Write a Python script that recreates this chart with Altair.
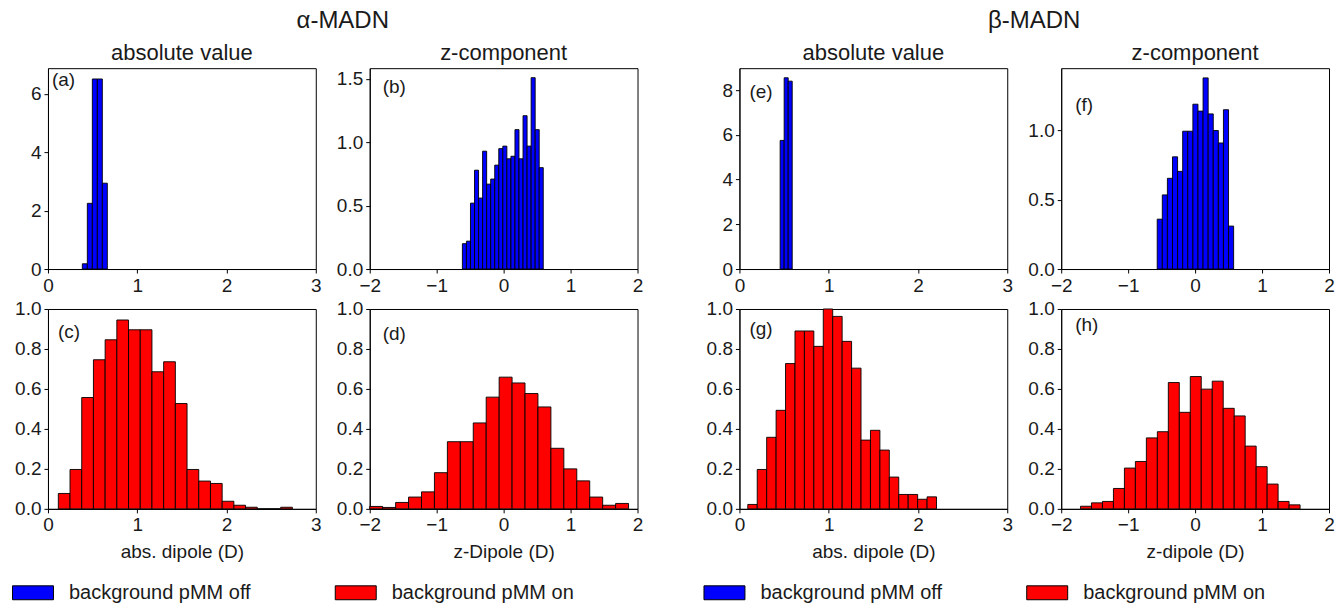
import altair as alt
import pandas as pd

OFF = "background pMM off"
ON = "background pMM on"

# ---- histogram data (probability densities) ----
# (a) alpha-MADN, |dipole|, pMM off
a_start, a_width = 0.385, 0.056
a_heights = [0.18, 2.25, 6.51, 6.51, 2.94]
# (b) alpha-MADN, z-dipole, pMM off
b_start, b_width = -0.616, 0.0604
b_heights = [0.20, 0.22, 0.52, 0.78, 0.56, 0.93, 0.67, 0.71, 0.82, 0.95,
             0.97, 0.87, 0.89, 1.10, 0.87, 1.21, 0.97, 1.51, 1.10, 0.80]
# (c) alpha-MADN, |dipole|, pMM on
c_start, c_width = 0.116, 0.1311
c_heights = [0.077, 0.197, 0.557, 0.746, 0.846, 0.945, 0.896, 0.896, 0.686, 0.736,
             0.527, 0.197, 0.139, 0.127, 0.038, 0.018, 0.008, 0.0, 0.0, 0.008]
# (d) alpha-MADN, z-dipole, pMM on
d_start, d_width = -2.0, 0.1933
d_heights = [0.012, 0.007, 0.032, 0.059, 0.085, 0.181, 0.336, 0.336, 0.430, 0.559,
             0.659, 0.630, 0.577, 0.510, 0.303, 0.200, 0.140, 0.059, 0.018, 0.027]
# (e) beta-MADN, |dipole|, pMM off
e_start, e_width = 0.456, 0.045
e_heights = [5.75, 8.55, 8.40]
# (f) beta-MADN, z-dipole, pMM off
f_start, f_width = -0.566, 0.0761
f_heights = [0.36, 0.535, 0.655, 0.81, 0.705, 0.995, 0.995, 1.19, 1.14, 1.38,
             1.12, 1.00, 0.91, 1.15, 0.31]
# (g) beta-MADN, |dipole|, pMM on
g_start, g_width = 0.0935, 0.1057
g_heights = [0.022, 0.197, 0.358, 0.493, 0.727, 0.890, 0.890, 0.813, 1.000, 0.963,
             0.838, 0.704, 0.344, 0.393, 0.294, 0.159, 0.072, 0.072, 0.048, 0.060]
# (h) beta-MADN, z-dipole, pMM on
h_start, h_width = -1.712, 0.164
h_heights = [0.013, 0.030, 0.037, 0.102, 0.204, 0.237, 0.355, 0.386, 0.632, 0.483,
             0.662, 0.599, 0.639, 0.503, 0.465, 0.314, 0.211, 0.124, 0.037, 0.020]

FONT = "Liberation Sans"
TXT = "#1a1a1a"
PW = 268
GAP = 54


def make_df(start, width, heights, series):
    x0 = [start + i * width for i in range(len(heights))]
    return pd.DataFrame({"x0": x0, "x1": [v + width for v in x0],
                         "y": heights, "series": series})


def make_legend():
    return alt.Legend(
        orient="none", legendX=-36, legendY=263, direction="horizontal",
        title=None, symbolType="M-1,-0.34H1V0.34H-1Z", symbolSize=1681,
        symbolStrokeColor="black", symbolStrokeWidth=1, labelFontSize=20,
        labelFont=FONT, labelColor=TXT, labelOffset=15, columnPadding=82,
        padding=0, labelLimit=400,
    )


def text_layer(txt, x, y, size, align="center", baseline="middle"):
    return alt.Chart(pd.DataFrame({"t": [txt]})).mark_text(
        align=align, baseline=baseline, fontSize=size, font=FONT, color=TXT
    ).encode(x=alt.value(x), y=alt.value(y), text="t:N")


def panel(df, xdom, xticks, ydom, yticks, yfmt, label, ldx, ldy,
          title=None, xtitle=None, h=201, legend=False, group_title=None):
    xaxis_kw = dict(values=xticks, format="d")
    xaxis_kw["title"] = xtitle if xtitle is not None else None
    color_kw = dict(scale=alt.Scale(domain=[OFF, ON], range=["#0000ff", "#ff0000"]))
    color_kw["legend"] = make_legend() if legend else None
    bars = alt.Chart(df).mark_rect(stroke="black", strokeWidth=0.9).encode(
        x=alt.X("x0:Q", scale=alt.Scale(domain=xdom, nice=False, zero=False),
                axis=alt.Axis(**xaxis_kw)),
        x2="x1:Q",
        y=alt.Y("y:Q", scale=alt.Scale(domain=ydom, nice=False),
                axis=alt.Axis(values=yticks, format=yfmt, title=None)),
        y2=alt.datum(0),
        color=alt.Color("series:N", **color_kw),
    )
    layers = [bars, text_layer(label, ldx, ldy, 19, align="left", baseline="top")]
    if title is not None:
        layers.append(text_layer(title, PW / 2, -15, 22))
    if group_title is not None:
        layers.append(text_layer(group_title, PW + GAP / 2, -47, 24))
    return alt.layer(*layers).properties(width=PW, height=h)


pa = panel(make_df(a_start, a_width, a_heights, OFF), [0, 3], [0, 1, 2, 3],
           [0, 6.88], [0, 2, 4, 6], "d", "(a)", 4, 3, title="absolute value",
           group_title="α-MADN")
pb = panel(make_df(b_start, b_width, b_heights, OFF), [-2, 2], [-2, -1, 0, 1, 2],
           [0, 1.585], [0, 0.5, 1.0, 1.5], ".1f", "(b)", 13, 10, title="z-component")
pc = panel(make_df(c_start, c_width, c_heights, ON), [0, 3], [0, 1, 2, 3],
           [0, 1], [0, 0.2, 0.4, 0.6, 0.8, 1.0], ".1f", "(c)", 10, 14,
           xtitle="abs. dipole (D)", h=200, legend=True)
pd_ = panel(make_df(d_start, d_width, d_heights, ON), [-2, 2], [-2, -1, 0, 1, 2],
            [0, 1], [0, 0.2, 0.4, 0.6, 0.8, 1.0], ".1f", "(d)", 13, 16,
            xtitle="z-Dipole (D)", h=200)
pe = panel(make_df(e_start, e_width, e_heights, OFF), [0, 3], [0, 1, 2, 3],
           [0, 8.98], [0, 2, 4, 6, 8], "d", "(e)", 10, 15, title="absolute value",
           group_title="β-MADN")
pf = panel(make_df(f_start, f_width, f_heights, OFF), [-2, 2], [-2, -1, 0, 1, 2],
           [0, 1.45], [0, 0.5, 1.0], ".1f", "(f)", 14, 28, title="z-component")
pg = panel(make_df(g_start, g_width, g_heights, ON), [0, 3], [0, 1, 2, 3],
           [0, 1], [0, 0.2, 0.4, 0.6, 0.8, 1.0], ".1f", "(g)", 10, 11,
           xtitle="abs. dipole (D)", h=200, legend=True)
ph = panel(make_df(h_start, h_width, h_heights, ON), [-2, 2], [-2, -1, 0, 1, 2],
           [0, 1], [0, 0.2, 0.4, 0.6, 0.8, 1.0], ".1f", "(h)", 14, 7,
           xtitle="z-dipole (D)", h=200)


def group(p1, p2, p3, p4):
    return alt.concat(
        p1, p2, p3, p4, columns=2,
        spacing={"row": 40, "column": GAP}, bounds="flush",
    ).resolve_scale(color="independent")


chart = alt.hconcat(
    group(pa, pb, pc, pd_), group(pe, pf, pg, ph), spacing=59,
).resolve_scale(color="independent").properties(
    padding={"left": 3, "top": 0, "right": 0, "bottom": 0}
).configure_view(
    stroke="black", strokeWidth=1
).configure_axis(
    grid=False, domainColor="black", tickColor="black", labelColor=TXT,
    labelFont=FONT, titleFont=FONT, labelFontSize=19, titleFontSize=19,
    titleFontWeight="normal", titleColor=TXT, tickSize=4, labelPadding=3,
    titlePadding=8, labelFlush=False, labelOverlap=False, domainWidth=1,
)

chart.save("out.html", embed_options={"renderer": "svg", "actions": False})
